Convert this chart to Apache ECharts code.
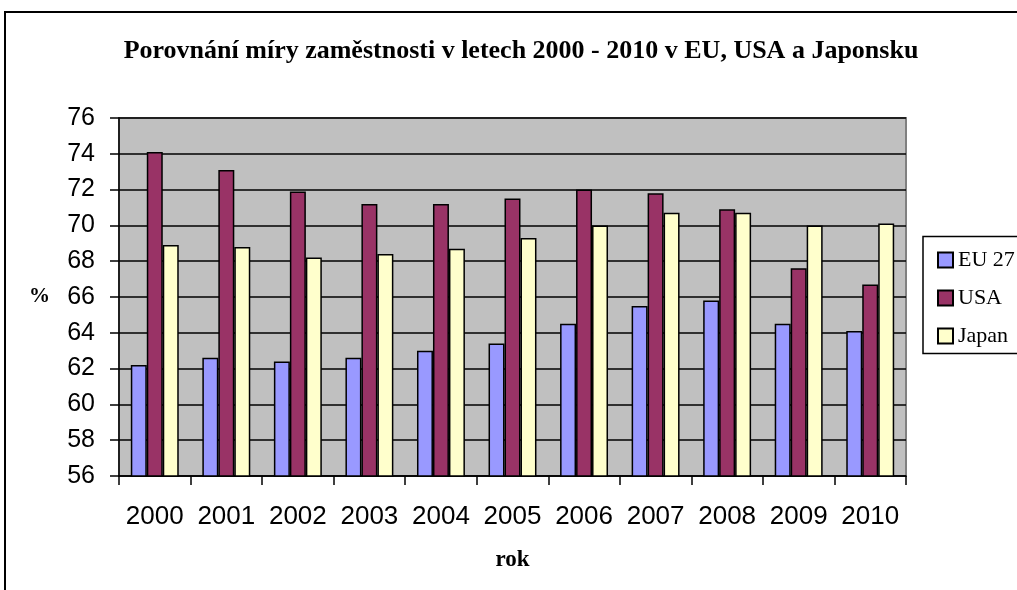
<!DOCTYPE html>
<html>
<head>
<meta charset="utf-8">
<script src="https://cdn.jsdelivr.net/npm/echarts@6/dist/echarts.min.js"></script>
<style>html,body{margin:0;padding:0;background:#fff;}#c{width:1017px;height:590px;}</style>
</head>
<body>
<div id="c"></div>
<script>
const years = ['2000','2001','2002','2003','2004','2005','2006','2007','2008','2009','2010'];
const eu27 = [62.2, 62.6, 62.4, 62.6, 63.0, 63.4, 64.5, 65.5, 65.8, 64.5, 64.1];
const usa = [74.1, 73.1, 71.9, 71.2, 71.2, 71.5, 72.0, 71.8, 70.9, 67.6, 66.7];
const japan = [68.9, 68.8, 68.2, 68.4, 68.7, 69.3, 70.0, 70.7, 70.7, 70.0, 70.1];
const seriesNames = ['EU 27', 'USA', 'Japan'];
const titleText = 'Porovnání míry zaměstnosti v letech 2000 - 2010 v EU, USA a Japonsku';

const chart = echarts.init(document.getElementById('c'), null, {renderer: 'canvas'});
const barStyle = (color) => ({color: color, borderColor: '#000', borderWidth: 1.5});
chart.setOption({
  animation: false,
  backgroundColor: '#fff',
  title: {
    text: titleText,
    left: 516,
    top: 33,
    textAlign: 'center',
    textStyle: {fontFamily: 'Liberation Serif', fontWeight: 'bold', fontSize: 26, color: '#000'}
  },
  graphic: [
    {type: 'rect', shape: {x: 5, y: 12, width: 1040, height: 600}, style: {fill: 'none', stroke: '#000', lineWidth: 2}, z: -10},
    {type: 'rect', shape: {x: 923, y: 236.5, width: 120, height: 117}, style: {fill: '#fff', stroke: '#000', lineWidth: 1.5}, z: 0}
  ],
  legend: {
    orient: 'vertical',
    left: 932,
    top: 244,
    itemWidth: 15,
    itemHeight: 15,
    itemGap: 16,
    icon: 'rect',
    data: seriesNames,
    textStyle: {fontFamily: 'Liberation Serif', fontSize: 22, color: '#000', lineHeight: 22},
    z: 5
  },
  grid: {
    left: 119, top: 118, width: 787, height: 358,
    show: true, backgroundColor: '#C0C0C0', borderColor: '#808080', borderWidth: 2
  },
  xAxis: {
    type: 'category',
    data: years,
    name: 'rok',
    nameLocation: 'middle',
    nameGap: 73,
    nameTextStyle: {fontFamily: 'Liberation Serif', fontWeight: 'bold', fontSize: 23, color: '#000'},
    axisLine: {lineStyle: {color: '#000', width: 1.5}},
    axisTick: {show: true, length: 9, lineStyle: {color: '#000', width: 1.5}},
    axisLabel: {interval: 0, fontFamily: 'Liberation Sans', fontSize: 26, color: '#000', margin: 28},
    splitLine: {show: false}
  },
  yAxis: {
    type: 'value',
    min: 56, max: 76, interval: 2,
    name: '%',
    nameLocation: 'middle',
    nameRotate: 0,
    nameGap: 69,
    nameTextStyle: {fontFamily: 'Liberation Serif', fontWeight: 'bold', fontSize: 21, color: '#000'},
    axisLine: {show: true, lineStyle: {color: '#000', width: 1.5}},
    axisTick: {show: true, length: 9, lineStyle: {color: '#000', width: 1.5}},
    axisLabel: {fontFamily: 'Liberation Sans', fontSize: 25, color: '#000', margin: 24},
    splitLine: {show: true, lineStyle: {color: '#000', width: 1.5}}
  },
  series: [
    {name: seriesNames[0], type: 'bar', data: eu27, barGap: '0%', barCategoryGap: '33%', itemStyle: barStyle('#9999FF')},
    {name: seriesNames[1], type: 'bar', data: usa, barGap: '0%', barCategoryGap: '33%', itemStyle: barStyle('#993366')},
    {name: seriesNames[2], type: 'bar', data: japan, barGap: '0%', barCategoryGap: '33%', itemStyle: barStyle('#FFFFCC')}
  ]
});
</script>
</body>
</html>
